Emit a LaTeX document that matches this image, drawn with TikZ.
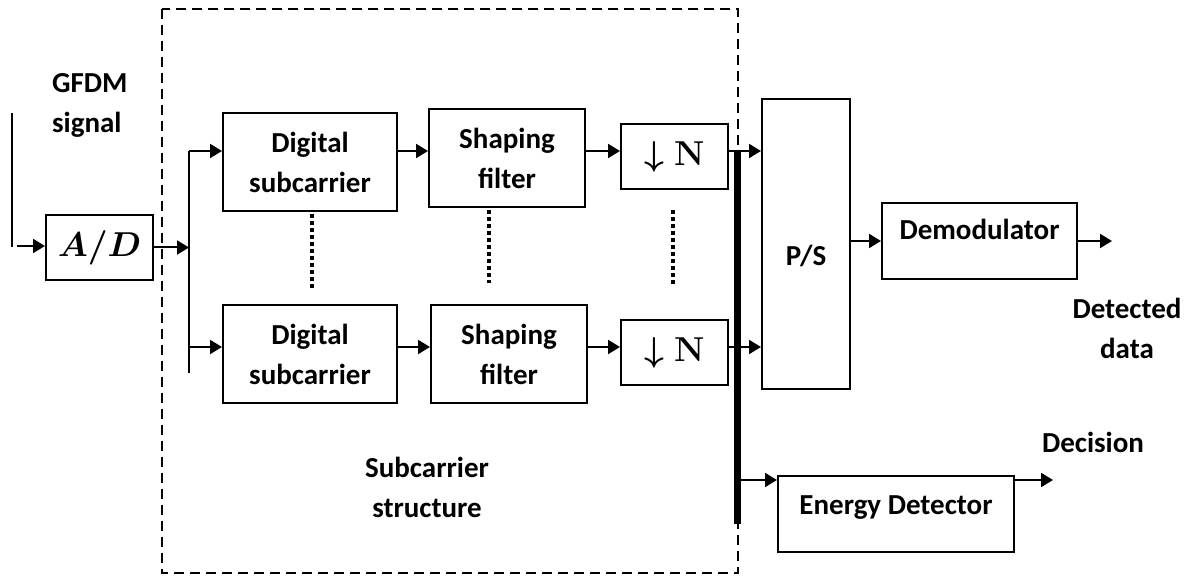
\documentclass[tikz,border=0pt]{standalone}
\usepackage{amsmath,amssymb,bm}
\usepackage[no-math]{fontspec}
\setmainfont{Carlito}
\usetikzlibrary{arrows.meta, positioning}

\begin{document}
\begin{tikzpicture}[x=0.5pt, y=-0.5pt,
    every node/.style={font=\bfseries\fontsize{14.5}{20}\selectfont, align=center},
    block/.style={draw, line width=1pt, inner sep=0pt},
    mathbig/.style={font=\fontsize{18}{20}\selectfont},
    link/.style={line width=1pt, -{Triangle[length=6pt, width=7pt]}},
    wire/.style={line width=1pt},
    dots/.style={line width=2pt, dash pattern=on 2pt off 1.5pt},
    frame/.style={line width=1pt, dash pattern=on 5pt off 3pt}]
    \useasboundingbox (0,0) rectangle (1192,576);

    % subcarrier structure
    \draw[frame] (162,9) rectangle (738,573);

    % blocks
    \node[block, mathbig, minimum width=53.5pt, minimum height=32.5pt] (ad) at (99.5,247.5) {$\bm{A/D}$};
    \node[block, minimum width=87pt, minimum height=49pt] (dsc1) at (310,162) {Digital\\subcarrier};
    \node[block, minimum width=78pt, minimum height=49pt] (shf1) at (507,158) {Shaping\\filter};
    \node[block, mathbig, minimum width=53.5pt, minimum height=32.5pt] (dn1) at (674.5,156.5) {$\bm{\downarrow\mathbf{N}}$};
    \node[block, minimum width=87pt, minimum height=49pt] (dsc2) at (310,354) {Digital\\subcarrier};
    \node[block, minimum width=78pt, minimum height=49pt] (shf2) at (509,354) {Shaping\\filter};
    \node[block, mathbig, minimum width=53.5pt, minimum height=32.5pt] (dn2) at (674.5,353) {$\bm{\downarrow\mathbf{N}}$};
    \node[block, minimum width=44pt, minimum height=145pt, text height=25pt, text depth=3pt] (ps) at (806,244) {P/S};
    \node[block, minimum width=97.5pt, minimum height=38pt, text height=10pt, text depth=11pt] (demod) at (979.5,241) {Demodulator};
    \node[block, minimum width=118pt, minimum height=38pt, text height=10pt, text depth=10pt] (ed) at (896,514) {Energy Detector};

    % labels
    \node[anchor=west, align=left] (gfdm) at (45,105) {GFDM\\signal};
    \node (subc) at (427,487) {Subcarrier\\structure};
    \node (detected) at (1127,328) {Detected\\data};
    \node (decision) at (1093,442) {Decision};

    % points
    \coordinate (intop) at (12,113);
    \coordinate (inbot) at (12,247);
    \coordinate (instart) at (17,246);
    \coordinate (bustop) at (189,151);
    \coordinate (busbot) at (189,373);
    \coordinate (row2) at (189,347);
    \coordinate (bartop) at (737,150);
    \coordinate (barbot) at (737,524);
    \coordinate (demodout) at (1112,241);
    \coordinate (edin) at (741,480);
    \coordinate (edout) at (1053,480);

    % input and bus
    \draw[wire] (intop) -- (inbot);
    \draw[link] (instart) -- (instart -| ad.west);
    \draw[wire] (bustop) -- (busbot);
    \draw[link] (ad.east) -- (ad.east -| bustop);

    % first branch
    \draw[link] (bustop) -- (bustop -| dsc1.west);
    \draw[link] (bustop -| dsc1.east) -- (bustop -| shf1.west);
    \draw[link] (bustop -| shf1.east) -- (bustop -| dn1.west);
    \draw[wire] (bustop -| dn1.east) -- (bustop -| bartop);

    % last branch
    \draw[link] (row2) -- (row2 -| dsc2.west);
    \draw[link] (row2 -| dsc2.east) -- (row2 -| shf2.west);
    \draw[link] (row2 -| shf2.east) -- (row2 -| dn2.west);
    \draw[wire] (row2 -| dn2.east) -- (row2 -| bartop);

    % collecting bar
    \draw[line width=3.5pt] (bartop) -- (barbot);
    \draw[link] (bustop -| bartop) -- (bustop -| ps.west);
    \draw[link] (row2 -| bartop) -- (row2 -| ps.west);
    \draw[link] (demod.west -| ps.east) -- (demod.west);
    \draw[link] (demod.east) -- (demodout);
    \draw[link] (edin) -- (edin -| ed.west);
    \draw[link] (edout -| ed.east) -- (edout);

    % dots
    \draw[dots] (312,214) -- (312,289);
    \draw[dots] (489,210) -- (489,283);
    \draw[dots] (673,210) -- (673,285);
\end{tikzpicture}
\end{document}
